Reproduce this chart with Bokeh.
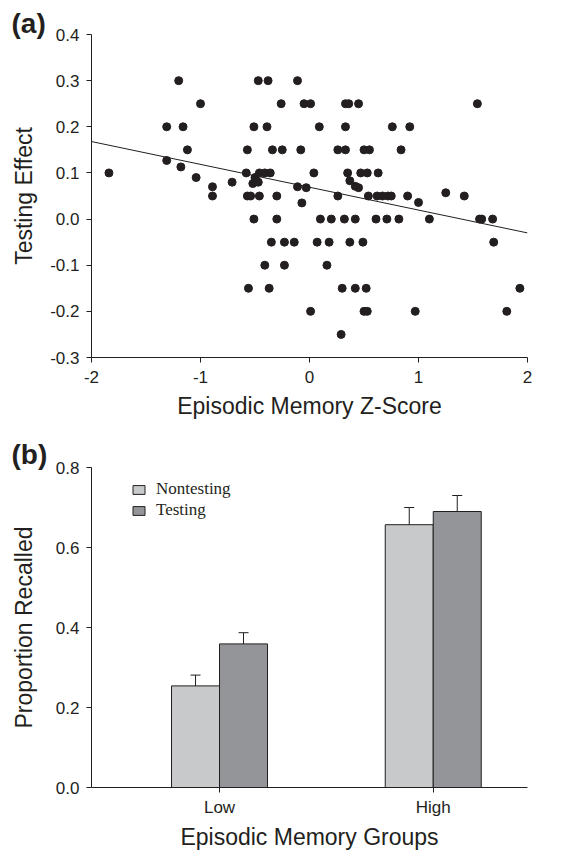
from bokeh.plotting import figure
from bokeh.layouts import column
from bokeh.models import (Range1d, FixedTicker, NumeralTickFormatter, Title, Whisker,
                          TeeHead, ColumnDataSource, Legend, LegendItem)
from bokeh.transform import dodge
from bokeh.embed import file_html
from bokeh.resources import INLINE

# ---------------- data: panel (a) ----------------
ez_score = [-1.20, -0.47, -0.38, -0.11,
            -1.00, -0.26, -0.05, 0.01, 0.33, 0.36, 0.45, 1.54,
            -1.31, -1.16, -0.51, -0.39, 0.09, 0.33, 0.76, 0.92,
            -1.12, -0.57, -0.34, -0.25, -0.08, 0.26, 0.33, 0.50, 0.55, 0.84,
            -1.31, -1.18, -1.04, -0.89, -0.89, -0.71, -0.50, -0.52, -0.47, -0.11, -0.03,
            0.37, 0.42, 0.45, 1.25, 1.00, -0.07,
            -1.84, -0.58, -0.46, -0.41, -0.36, 0.04, 0.35, 0.47, 0.53, 0.63,
            -0.57, -0.54, -0.46, -0.30, 0.26, 0.54, 0.62, 0.67, 0.72, 0.75, 0.90, 1.42,
            -0.51, -0.30, 0.10, 0.20, 0.32, 0.42, 0.61, 0.71, 0.82, 1.10, 1.56, 1.58, 1.68,
            -0.35, -0.23, -0.14, 0.07, 0.18, 0.37, 0.49, 1.69,
            -0.41, -0.23, 0.16,
            -0.56, -0.37, 0.30, 0.42, 0.52, 1.93,
            0.01, 0.50, 0.53, 0.97, 1.81,
            0.29]
testing_effect = [0.30, 0.30, 0.30, 0.30,
                  0.25, 0.25, 0.25, 0.25, 0.25, 0.25, 0.25, 0.25,
                  0.20, 0.20, 0.20, 0.20, 0.20, 0.20, 0.20, 0.20,
                  0.15, 0.15, 0.15, 0.15, 0.15, 0.15, 0.15, 0.15, 0.15, 0.15,
                  0.127, 0.113, 0.09, 0.07, 0.05, 0.08, 0.09, 0.077, 0.08, 0.07, 0.068,
                  0.083, 0.071, 0.068, 0.057, 0.036, 0.035,
                  0.10, 0.10, 0.10, 0.10, 0.10, 0.10, 0.10, 0.10, 0.10, 0.10,
                  0.05, 0.05, 0.05, 0.05, 0.05, 0.05, 0.05, 0.05, 0.05, 0.05, 0.05, 0.05,
                  0.0, 0.0, 0.0, 0.0, 0.0, 0.0, 0.0, 0.0, 0.0, 0.0, 0.0, 0.0, 0.0,
                  -0.05, -0.05, -0.05, -0.05, -0.05, -0.05, -0.05, -0.05,
                  -0.10, -0.10, -0.10,
                  -0.15, -0.15, -0.15, -0.15, -0.15, -0.15,
                  -0.20, -0.20, -0.20, -0.20, -0.20,
                  -0.25]
reg_x = [-2.0, 2.0]
reg_y = [0.168, -0.030]
x_ticks_a = [-2, -1, 0, 1, 2]
y_ticks_a = [-0.3, -0.2, -0.1, 0.0, 0.1, 0.2, 0.3, 0.4]

# ---------------- data: panel (b) ----------------
groups = ["Low", "High"]
group_pos = [1, 2]
nontesting = [0.254, 0.657]
nontesting_se = [0.027, 0.043]
testing = [0.359, 0.690]
testing_se = [0.028, 0.040]
y_ticks_b = [0.0, 0.2, 0.4, 0.6, 0.8]

FONT = "Liberation Sans"
INK = "#231f20"


def style_axis(ax):
    ax.axis_line_color = INK
    ax.axis_line_width = 1
    ax.major_tick_line_color = INK
    ax.minor_tick_line_color = None
    ax.major_tick_out = 5
    ax.major_tick_in = 0
    ax.major_label_text_font = FONT
    ax.major_label_text_font_size = "17px"
    ax.major_label_text_color = INK
    ax.axis_label_text_font = FONT
    ax.axis_label_text_font_size = "23px"
    ax.axis_label_text_font_style = "normal"
    ax.axis_label_text_color = INK


def panel_title(txt, standoff):
    return Title(text=txt, align="left", offset=-80, standoff=standoff,
                 text_font=FONT, text_font_size="28px", text_font_style="bold",
                 text_color=INK, vertical_align="bottom")


# ---------------- panel (a) ----------------
p1 = figure(width=560, height=430, output_backend="svg", toolbar_location=None,
            x_range=Range1d(-2, 2), y_range=Range1d(-0.3, 0.4),
            min_border_left=91, min_border_right=33, min_border_top=34, min_border_bottom=73)
p1.outline_line_color = None
p1.grid.visible = False
p1.title = panel_title("(a)", -8)

p1.line(reg_x, reg_y, line_color=INK, line_width=1)
p1.scatter(ez_score, testing_effect, size=8, fill_color=INK, line_color=INK)

style_axis(p1.xaxis[0])
style_axis(p1.yaxis[0])
p1.xaxis[0].ticker = FixedTicker(ticks=x_ticks_a)
p1.xaxis[0].formatter = NumeralTickFormatter(format="0")
p1.yaxis[0].ticker = FixedTicker(ticks=y_ticks_a)
p1.yaxis[0].formatter = NumeralTickFormatter(format="0.0")
p1.xaxis[0].axis_label = "Episodic Memory Z-Score"
p1.yaxis[0].axis_label = "Testing Effect"
p1.xaxis[0].major_label_standoff = 8
p1.yaxis[0].major_label_standoff = 7
p1.xaxis[0].axis_label_standoff = 7
p1.yaxis[0].axis_label_standoff = 10

# ---------------- panel (b) ----------------
p2 = figure(width=560, height=422, output_backend="svg", toolbar_location=None,
            x_range=Range1d(0.401, 2.441), y_range=Range1d(0, 0.8),
            min_border_left=91, min_border_right=33, min_border_top=37, min_border_bottom=60)
p2.outline_line_color = None
p2.grid.visible = False
p2.title = panel_title("(b)", -5)

src = ColumnDataSource(dict(
    pos=group_pos,
    nt=nontesting,
    nt_lo=[v - e for v, e in zip(nontesting, nontesting_se)],
    nt_up=[v + e for v, e in zip(nontesting, nontesting_se)],
    t=testing,
    t_lo=[v - e for v, e in zip(testing, testing_se)],
    t_up=[v + e for v, e in zip(testing, testing_se)],
))

BW = 0.2246
r_nt = p2.vbar(x=dodge("pos", -BW / 2, range=p2.x_range), top="nt", width=BW, source=src,
               fill_color="#c8c9cb", line_color=INK, line_width=1)
r_t = p2.vbar(x=dodge("pos", BW / 2, range=p2.x_range), top="t", width=BW, source=src,
              fill_color="#939598", line_color=INK, line_width=1)

for off, lo, up in [(-BW / 2, "nt_lo", "nt_up"), (BW / 2, "t_lo", "t_up")]:
    w = Whisker(source=src, base=dodge("pos", off, range=p2.x_range), lower=lo, upper=up,
                line_color=INK, line_width=1,
                upper_head=TeeHead(size=10, line_color=INK, line_width=1),
                lower_head=TeeHead(size=10, line_color=INK, line_width=1))
    p2.add_layout(w)

style_axis(p2.xaxis[0])
style_axis(p2.yaxis[0])
p2.xaxis[0].ticker = FixedTicker(ticks=group_pos)
p2.xaxis[0].major_label_overrides = {p: g for p, g in zip(group_pos, groups)}
p2.yaxis[0].ticker = FixedTicker(ticks=y_ticks_b)
p2.yaxis[0].formatter = NumeralTickFormatter(format="0.0")
p2.xaxis[0].axis_label = "Episodic Memory Groups"
p2.yaxis[0].axis_label = "Proportion Recalled"
p2.xaxis[0].major_label_standoff = 5
p2.yaxis[0].major_label_standoff = 7
p2.xaxis[0].axis_label_standoff = 4
p2.yaxis[0].axis_label_standoff = 16

legend = Legend(items=[LegendItem(label="Nontesting", renderers=[r_nt]),
                       LegendItem(label="Testing", renderers=[r_t])],
                location=(40, 267), orientation="vertical",
                glyph_width=15, glyph_height=11, label_standoff=10, spacing=1,
                padding=0, margin=0, label_height=20,
                label_text_font="Liberation Serif", label_text_font_size="17px",
                label_text_color=INK, border_line_color=None, background_fill_alpha=0)
p2.add_layout(legend)

layout = column(p1, p2, spacing=0)
open("out.html", "w").write(file_html(layout, INLINE))
